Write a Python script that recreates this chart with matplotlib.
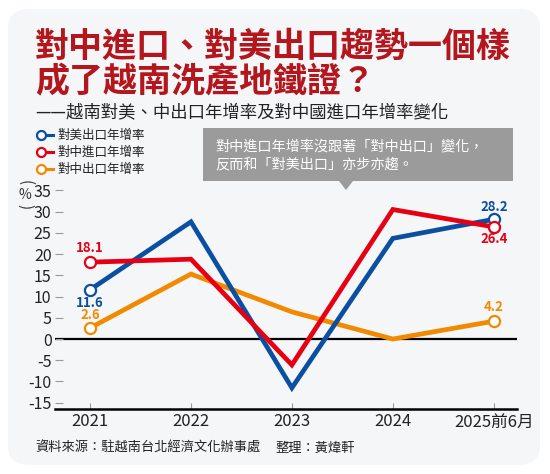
import matplotlib
matplotlib.use("Agg")
import matplotlib.pyplot as plt
from matplotlib.patches import FancyBboxPatch, Polygon, Rectangle
from matplotlib.lines import Line2D

CJK = ["Noto Sans CJK TC", "DejaVu Sans"]
plt.rcParams["font.family"] = CJK

years = ["2021", "2022", "2023", "2024", "2025前6月"]
us_export = [11.6, 27.6, -11.5, 23.7, 28.2]      # 對美出口年增率
cn_import = [18.1, 18.8, -6.1, 30.5, 26.4]       # 對中進口年增率
cn_export = [2.6, 15.3, 6.4, 0.0, 4.2]           # 對中出口年增率
yticks = [-15, -10, -5, 0, 5, 10, 15, 20, 25, 30, 35]

BLUE = "#0b4fa3"
RED = "#e60013"
ORANGE = "#f18a00"
# name, values, colour, zorder, label offset first / last point (points)
series = [
    ("對美出口年增率", us_export, BLUE, 4, -9.5, 9),
    ("對中進口年增率", cn_import, RED, 5, 10, -9),
    ("對中出口年增率", cn_export, ORANGE, 3, 9, 10),
]

fig = plt.figure(figsize=(5.5, 4.74), dpi=100)
fig.patch.set_facecolor("white")

# rounded background panel
panel = FancyBboxPatch((8 / 550, 9 / 474), 532 / 550, 456 / 474,
                       boxstyle="round,pad=0,rounding_size=0.04",
                       transform=fig.transFigure, facecolor="#f5f6f8",
                       edgecolor="none", zorder=-5)
fig.patches.append(panel)

# titles
fig.text(35 / 550, 1 - 46 / 474, "對中進口、對美出口趨勢一個樣", fontsize=24.5,
         fontweight="bold", color="#b3161c", va="center", ha="left")
fig.text(35 / 550, 1 - 82 / 474, "成了越南洗產地鐵證？", fontsize=24.5,
         fontweight="bold", color="#b3161c", va="center", ha="left")
fig.text(35 / 550, 1 - 113 / 474, "——越南對美、中出口年增率及對中國進口年增率變化",
         fontsize=12.5, color="#222222", va="center", ha="left")

# legend (hand drawn)
for i, (name, vals, col, z, d0, d1) in enumerate(series):
    yy = 1 - (135 + 17 * i) / 474
    fig.lines.append(Line2D([41 / 550, 53 / 550], [yy, yy], color=col, lw=2.2,
                            transform=fig.transFigure))
    fig.lines.append(Line2D([41 / 550], [yy], marker="o", ms=6.5, mfc="white",
                            mec=col, mew=1.6, transform=fig.transFigure))
    fig.text(57 / 550, yy, name, fontsize=9, color="#222222", va="center", ha="left")

# callout box
fig.patches.append(Rectangle((203 / 550, 1 - 181 / 474), 310 / 550, 53 / 474,
                             transform=fig.transFigure, facecolor="#9b9b9b",
                             edgecolor="none"))
fig.patches.append(Polygon([[339 / 550, 1 - 181 / 474], [353 / 550, 1 - 181 / 474],
                            [346 / 550, 1 - 190 / 474]], closed=True,
                           transform=fig.transFigure, facecolor="#9b9b9b",
                           edgecolor="none"))
fig.text(215 / 550, 1 - 146 / 474, "對中進口年增率沒跟著「對中出口」變化，",
         fontsize=10.2, color="white", va="center", ha="left")
fig.text(215 / 550, 1 - 164 / 474, "反而和「對美出口」亦步亦趨。",
         fontsize=10.2, color="white", va="center", ha="left")

# y-axis unit, written vertically: ( % )
fig.text(25 / 550, 1 - 183 / 474, "(", fontsize=11, color="#333333",
         va="center", ha="center", rotation=270)
fig.text(25 / 550, 1 - 195 / 474, "%", fontsize=10, color="#333333",
         va="center", ha="center")
fig.text(25 / 550, 1 - 207 / 474, ")", fontsize=11, color="#333333",
         va="center", ha="center", rotation=270)

ax = fig.add_axes([55 / 550, 64.7 / 474, 462 / 550, 227.4 / 474])
ax.set_zorder(2)
ax.set_facecolor("none")
x = list(range(len(years)))
for name, vals, col, z, d0, d1 in series:
    ax.plot(x, vals, color=col, lw=3.4, solid_joinstyle="miter", zorder=z)
    ax.plot([x[0], x[-1]], [vals[0], vals[-1]], ls="none", marker="o", ms=8,
            mfc="white", mec=col, mew=1.6, zorder=z + 3)
    ax.annotate(f"{vals[0]:.1f}", (x[0], vals[0]), xytext=(0, d0),
                textcoords="offset points", ha="center", va="center",
                color=col, fontsize=9.5, fontweight="bold", zorder=10)
    ax.annotate(f"{vals[-1]:.1f}", (x[-1], vals[-1]), xytext=(0, d1),
                textcoords="offset points", ha="center", va="center",
                color=col, fontsize=9.5, fontweight="bold", zorder=10)

ax.axhline(0, color="black", lw=1.6, zorder=1)
ax.set_xlim(-0.347, 4.23)
ax.set_ylim(-16.55, 37)
for s in ["top", "right", "left"]:
    ax.spines[s].set_visible(False)
ax.spines["bottom"].set_linewidth(1.8)
ax.spines["bottom"].set_color("black")

ax.set_xticks(x)
ax.set_xticklabels(years, fontsize=12, color="#222222")
ax.set_yticks(yticks)
ax.set_yticklabels([str(v) for v in yticks], fontsize=11.5, color="#222222")
ax.tick_params(axis="x", direction="in", length=4, width=0.8, color="#999999", pad=3)
ax.tick_params(axis="y", direction="in", length=6, width=0.8, color="#999999", pad=2.5)

fig.text(35 / 550, 1 - 448 / 474, "資料來源：駐越南台北經濟文化辦事處", fontsize=9.5,
         color="#222222", va="center", ha="left")
fig.text(275 / 550, 1 - 448 / 474, "整理：黃煒軒", fontsize=9.5,
         color="#222222", va="center", ha="left")

fig.savefig("out.png", dpi=100, facecolor="white")
